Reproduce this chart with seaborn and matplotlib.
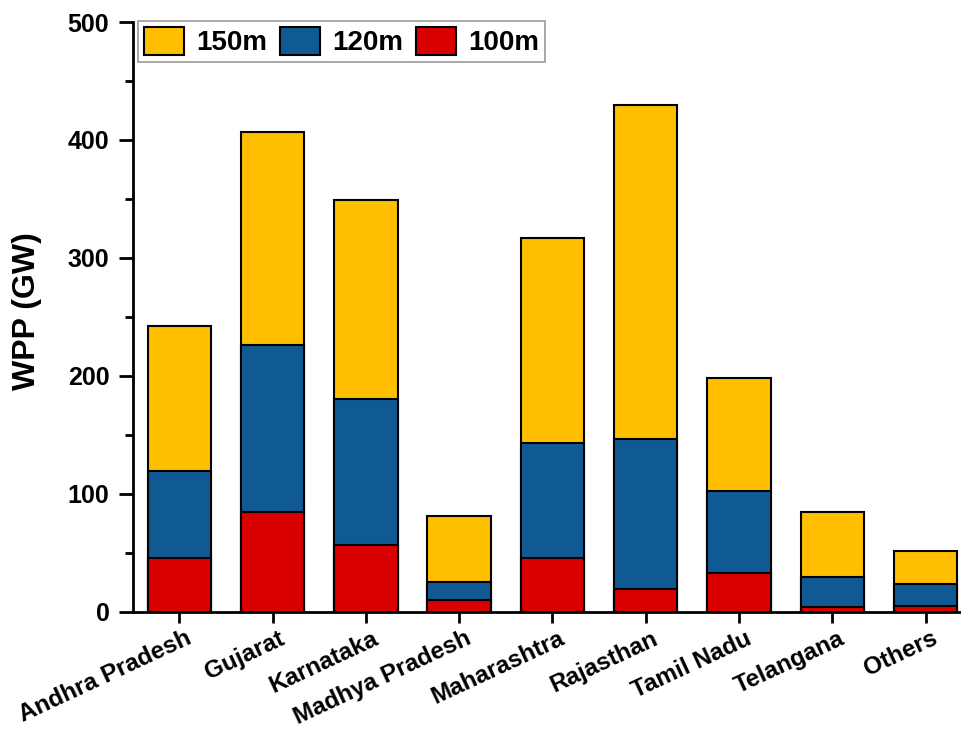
import matplotlib
matplotlib.use("Agg")
import matplotlib.pyplot as plt
import matplotlib.transforms as mtransforms
from matplotlib.ticker import MultipleLocator
import seaborn as sns
import pandas as pd

# Wind power potential by state at three hub heights (GW)
states = ["Andhra Pradesh", "Gujarat", "Karnataka", "Madhya Pradesh",
          "Maharashtra", "Rajasthan", "Tamil Nadu", "Telangana", "Others"]
wpp_150m = [242, 407, 349, 81, 317, 430, 198, 84, 51]
wpp_120m = [119, 226, 180, 25, 143, 146, 102, 29, 23]
wpp_100m = [45, 84, 56, 10, 45, 19, 33, 4, 5]

heights = ["150m", "120m", "100m"]
colors = {"150m": "#FFBE00", "120m": "#105A93", "100m": "#DB0000"}

df = pd.DataFrame({"state": states, "150m": wpp_150m,
                   "120m": wpp_120m, "100m": wpp_100m})

sns.set_style("ticks")
plt.rcParams["font.family"] = ["Liberation Sans", "DejaVu Sans"]
plt.rcParams["font.weight"] = "bold"
for key in ["text.color", "axes.labelcolor", "xtick.color", "ytick.color",
            "xtick.labelcolor", "ytick.labelcolor"]:
    plt.rcParams[key] = "black"

fig = plt.figure(figsize=(9.62, 7.33), dpi=100)
ax = fig.add_axes([133 / 962, 1 - 611.5 / 733, 1 - 133 / 962, 589.5 / 733])

# Taller hub heights drawn first so lower ones overlay them
for h in heights:
    sns.barplot(data=df, x="state", y=h, order=states, color=colors[h],
                edgecolor="black", linewidth=1.5, width=0.68,
                saturation=1, label=h, ax=ax)

ax.set_xlim(-0.496, 8.39)
ax.set_ylim(0, 500)
ax.yaxis.set_major_locator(MultipleLocator(100))
ax.yaxis.set_minor_locator(MultipleLocator(50))

for side in ["top", "right"]:
    ax.spines[side].set_visible(False)
for side in ["left", "bottom"]:
    ax.spines[side].set_linewidth(2)
    ax.spines[side].set_color("black")

ax.tick_params(axis="y", which="major", length=10, width=2, pad=7,
               labelsize=18, color="black", labelcolor="black",
               direction="out")
ax.tick_params(axis="y", which="minor", length=6, width=2, color="black",
               direction="out")
ax.tick_params(axis="x", which="major", length=8, width=2, pad=3,
               labelsize=17.5, color="black", labelcolor="black",
               direction="out")

ax.set_xlabel("")
ax.set_ylabel("WPP (GW)", fontsize=23, fontweight="bold", color="black")
ax.yaxis.set_label_coords(-0.11, 0.51)

shift = mtransforms.ScaledTranslation(6 / 100, 0, fig.dpi_scale_trans)
for lbl in ax.get_xticklabels():
    lbl.set_rotation(25)
    lbl.set_ha("right")
    lbl.set_va("top")
    lbl.set_rotation_mode("anchor")
    lbl.set_fontweight("bold")
    lbl.set_transform(lbl.get_transform() + shift)
for lbl in ax.get_yticklabels():
    lbl.set_fontweight("bold")

leg = ax.legend(loc="upper left", bbox_to_anchor=(0.006, 1.001),
                ncol=3, frameon=True, fancybox=False,
                borderaxespad=0, borderpad=0.2, handlelength=1.44,
                handleheight=1.19, handletextpad=0.45, columnspacing=0.45,
                prop={"weight": "bold", "size": 20})
leg.get_frame().set_edgecolor("#808080")
leg.get_frame().set_linewidth(1.2)
for text in leg.get_texts():
    text.set_color("black")
for patch in leg.get_patches():
    patch.set_edgecolor("black")
    patch.set_linewidth(1.5)

fig.savefig("out.png", dpi=100)
